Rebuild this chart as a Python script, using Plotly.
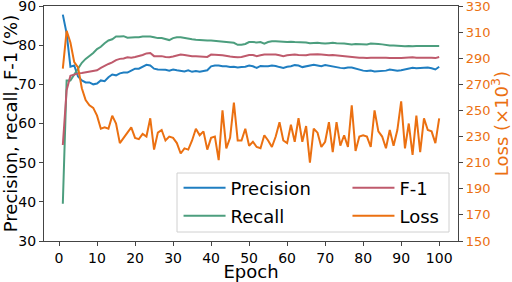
import plotly.graph_objects as go

epochs = list(range(1, 101))

precision = [87.8, 83, 74.5, 74.8, 72, 71, 70.5, 70.5, 70, 70.2,
             71, 70.8, 71.8, 72.5, 72.3, 72.8, 73, 73, 73.5, 74,
             74, 74.5, 75, 74.8, 74, 73.8, 73.8, 73.7, 73.5, 73.8,
             73.6, 73.4, 73.3, 73.6, 73.2, 73.4, 73.2, 73.4, 73.6, 74.6,
             74.8, 74.8, 74.6, 74.6, 74.4, 74.5, 74.3, 74.4, 74.5, 74.8,
             74.6, 74.2, 74.7, 74.6, 74.6, 74.8, 74.7, 74.4, 74.2, 74.5,
             74.6, 74.9, 74.8, 74.4, 74.6, 74.8, 75, 74.8, 74.6, 74.9,
             74.7, 74.5, 74.3, 74.2, 74.1, 74.3, 74.3, 74, 73.8, 73.5,
             73.4, 73.5, 73.3, 73.4, 73.4, 73.5, 73.8, 73.6, 73.5, 73.6,
             73.8, 74, 74.2, 74.1, 74.2, 74.2, 74.3, 74.1, 73.8, 74.5]

recall = [39.5, 71, 71, 72.5, 74, 75.5, 76.5, 77.2, 78, 79,
          79.6, 80.5, 81.2, 81.5, 82.2, 82.2, 82.3, 81.9, 82, 82,
          82, 82.2, 82.2, 82.2, 82, 81.8, 81.8, 81.5, 81.3, 81.8,
          82, 82, 81.8, 81.6, 81.5, 81.4, 81.3, 81.3, 81.2, 81.2,
          81.1, 81.0, 81.0, 80.9, 80.8, 80.6, 80.1, 80.1, 80.3, 80.8,
          80.8, 80.7, 80.8, 80.4, 80.8, 81, 81, 81, 80.9, 80.8,
          80.9, 80.8, 80.8, 80.7, 80.7, 80.5, 80.6, 80.6, 80.5, 80.4,
          80.5, 80.6, 80.5, 80.5, 80.4, 80.3, 80.2, 80.3, 80.3, 80.2,
          80.2, 80.4, 80.4, 80.3, 80.2, 80.0, 79.9, 79.9, 79.8, 79.7,
          79.7, 79.8, 79.7, 79.8, 79.8, 79.8, 79.8, 79.8, 79.8, 79.8]

f1 = [54.5, 68.5, 72.2, 72.6, 72.8, 72.9, 73.1, 73.2, 73.4, 73.6,
      74.2, 74.8, 75.2, 75.6, 76.2, 76.5, 76.6, 76.9, 76.8, 77,
      77.2, 77.5, 77.9, 78, 77.2, 77.2, 77.2, 77, 76.9, 77.1,
      77.4, 77.6, 77.5, 77.3, 77.2, 77.2, 77.1, 77.0, 77.0, 77.6,
      77.6, 77.5, 77.4, 77.2, 77.1, 77.0, 76.9, 77.0, 77.2, 77.5,
      77.5, 77.2, 77.4, 77.6, 77.6, 77.6, 77.6, 77.4, 77.2, 77.4,
      77.5, 77.6, 77.5, 77.4, 77.4, 77.6, 77.7, 77.7, 77.6, 77.5,
      77.4, 77.5, 77.4, 77.3, 77.2, 77.0, 77.0, 76.9, 76.8, 76.8,
      76.7, 76.8, 76.8, 76.9, 76.9, 76.8, 76.7, 76.7, 76.6, 76.7,
      76.8, 76.9, 76.9, 76.8, 76.8, 76.8, 76.9, 76.8, 76.7, 77.0]

loss = [282, 311, 302, 287, 283, 267, 258, 254, 252, 246,
        236, 237, 236, 246, 240, 225, 229, 233, 237, 229,
        228, 232, 230, 244, 220, 233, 235, 227, 230, 229,
        225, 217, 221, 220, 227, 236, 231, 234, 220, 229,
        230, 212, 250, 221, 229, 256, 227, 227, 236, 223,
        226, 222, 221, 231, 227, 222, 230, 241, 227, 225,
        239, 226, 244, 226, 238, 210, 236, 233, 222, 226,
        241, 218, 241, 223, 231, 222, 254, 219, 230, 231,
        230, 222, 250, 234, 230, 221, 235, 223, 235, 257,
        221, 240, 216, 246, 218, 244, 235, 234, 225, 244]

x_ticks = list(range(0, 101, 10))
left_ticks = list(range(30, 91, 10))
right_ticks = list(range(150, 331, 20))

C_PREC = "#1f7ec1"
C_REC = "#4c9e7e"
C_F1 = "#bf5a6c"
C_LOSS = "#eb7011"
FONT = "DejaVu Sans"

fig = go.Figure()
fig.add_trace(go.Scatter(x=epochs, y=precision, name="Precision", mode="lines",
                         line=dict(color=C_PREC, width=2), legend="legend"))
fig.add_trace(go.Scatter(x=epochs, y=recall, name="Recall", mode="lines",
                         line=dict(color=C_REC, width=2), legend="legend2"))
fig.add_trace(go.Scatter(x=epochs, y=f1, name="F-1", mode="lines",
                         line=dict(color=C_F1, width=2), legend="legend3"))
fig.add_trace(go.Scatter(x=epochs, y=loss, name="Loss", mode="lines", yaxis="y2",
                         line=dict(color=C_LOSS, width=2), legend="legend4"))

axis_line = "#444444"

def leg(x, y):
    return dict(x=x, y=y, xanchor="left", yanchor="middle", bgcolor="rgba(0,0,0,0)",
                borderwidth=0, font=dict(size=18, family=FONT, color="black"), itemwidth=42)

# plot area: x 44..458, y 6..241  (width 414, height 235)
fig.update_layout(
    width=512, height=282,
    margin=dict(l=44, r=54, t=6, b=41),
    paper_bgcolor="white", plot_bgcolor="white",
    font=dict(family=FONT, size=14, color="black"),
    showlegend=True,
    xaxis=dict(range=[-3.95, 104.95], tickvals=x_ticks, showgrid=False, zeroline=False,
               showline=True, linecolor=axis_line, linewidth=1.2, mirror=True,
               ticks="outside", ticklen=4, tickcolor=axis_line, automargin=False,
               ticklabeloverflow="allow",
               title=dict(text="Epoch", font=dict(size=18), standoff=0),
               tickfont=dict(size=14)),
    yaxis=dict(range=[30, 90], tickvals=left_ticks, showgrid=False, zeroline=False,
               showline=True, linecolor=axis_line, linewidth=1.2, automargin=False,
               ticks="outside", ticklen=4, tickcolor=axis_line,
               ticklabeloverflow="allow",
               title=dict(text="Precision, recall, F-1 (%)", font=dict(size=18), standoff=2),
               tickfont=dict(size=14)),
    yaxis2=dict(range=[150, 330], tickvals=right_ticks, overlaying="y", side="right",
                showgrid=False, zeroline=False, showline=True, linecolor=axis_line,
                linewidth=1.2, ticks="outside", ticklen=4, tickcolor=axis_line,
                automargin=False, ticklabeloverflow="allow",
                tickfont=dict(size=13, color=C_LOSS),
                title=dict(text="Loss (×10<sup>3</sup>)", font=dict(size=18, color=C_LOSS), standoff=2)),
    legend=leg(0.325, 0.2255),
    legend2=leg(0.325, 0.106),
    legend3=leg(0.733, 0.2255),
    legend4=leg(0.733, 0.106),
    shapes=[dict(type="rect", xref="paper", yref="paper",
                 x0=(177 - 44) / 414, x1=(449 - 44) / 414,
                 y0=1 - (232 - 6) / 235, y1=1 - (173 - 6) / 235,
                 line=dict(color="#d0d0d0", width=1),
                 fillcolor="rgba(255,255,255,0.8)", layer="above")],
)

fig.write_html("out.html", config={"displayModeBar": False},
               post_script="document.body.style.margin='0px';")
